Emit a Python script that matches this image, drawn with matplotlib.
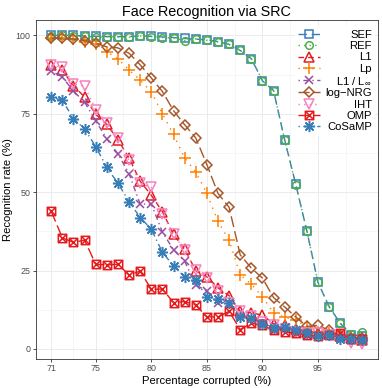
import numpy as np
import matplotlib
matplotlib.use("Agg")
import matplotlib.pyplot as plt
from matplotlib.path import Path
from matplotlib.ticker import FixedLocator

plt.rcParams['font.family'] = ['Liberation Sans', 'DejaVu Sans']
plt.rcParams['mathtext.fontset'] = 'custom'
plt.rcParams['mathtext.rm'] = 'Liberation Sans'
plt.rcParams['mathtext.it'] = 'Liberation Sans'

# ---------------- data ----------------
corrupted = list(range(71, 100))

sef = [100, 100, 100, 99.8, 99.7, 99.6, 99.6, 99.6, 99.8, 99.7, 99.5, 99.3, 99.0, 98.8,
       98.6, 98.0, 97.1, 95.2, 92.6, 85.5, 82.4, 66.7, 52.5, 37.6, 21.2, 13.5, 8.2, 4.6, 4.2]
ref = [99.8, 100, 99.8, 99.7, 99.4, 99.6, 99.5, 99.4, 99.8, 99.6, 99.3, 99.2, 98.3, 98.9,
       98.4, 97.9, 97.1, 95.2, 92.5, 85.6, 82.4, 66.7, 52.4, 37.6, 21.2, 13.5, 8.2, 4.9, 5.3]
l1 = [90.4, 88.8, 84.0, 80.3, 74.8, 71.6, 66.7, 60.9, 53.5, 49.0, 43.8, 36.5, 31.8, 25.0,
      23.0, 19.5, 17.0, 12.0, 11.5, 10.8, 8.0, 7.5, 6.5, 5.5, 5.0, 4.8, 4.0, 3.5, 3.0]
lp = [99.0, 99.0, 98.7, 98.0, 97.3, 94.8, 92.5, 89.0, 85.7, 82.0, 75.0, 68.4, 60.9, 56.4,
      49.6, 40.7, 34.7, 23.6, 20.7, 16.6, 11.5, 10.1, 9.2, 7.0, 5.5, 5.0, 4.0, 3.5, 3.0]
l1_linf = [88.7, 86.7, 82.2, 78.7, 72.7, 67.0, 62.2, 55.9, 46.2, 46.2, 37.3, 31.6, 28.0, 20.4,
           18.5, 14.8, 14.8, 10.5, 10.0, 8.0, 7.0, 6.5, 6.0, 5.0, 4.5, 4.5, 3.5, 3.0, 3.0]
log_nrg = [99.1, 99.1, 98.8, 98.3, 97.5, 96.3, 96.0, 94.3, 90.6, 86.4, 82.1, 76.0, 71.5, 67.3,
           58.8, 49.6, 45.2, 30.0, 25.8, 22.6, 16.4, 13.4, 10.2, 7.2, 7.5, 6.0, 4.5, 3.5, 3.5]
iht = [90.4, 89.9, 84.6, 83.8, 76.3, 72.0, 67.3, 60.1, 52.8, 51.5, 43.0, 36.6, 31.5, 25.1,
       22.6, 18.5, 14.8, 12.0, 10.5, 8.5, 7.5, 6.5, 5.5, 5.0, 5.0, 4.5, 3.5, 2.0, 1.6]
omp = [43.9, 35.4, 34.0, 34.7, 27.0, 26.8, 27.0, 23.6, 24.8, 19.0, 19.1, 14.8, 15.1, 14.0,
       10.2, 10.2, 12.0, 6.2, 8.2, 7.5, 6.0, 5.5, 5.0, 4.5, 4.0, 4.5, 5.0, 3.2, 3.2]
cosamp = [80.3, 79.3, 73.4, 70.2, 64.5, 57.9, 52.8, 47.0, 41.9, 38.2, 30.8, 26.5, 23.0, 22.0,
          16.5, 15.9, 14.8, 10.1, 9.8, 7.8, 6.8, 7.1, 6.0, 5.0, 4.2, 4.5, 3.3, 3.1, 3.0]

labels = ["SEF", "REF", "L1", "Lp", "L1 / L$_{\\infty}$", "log\u2212NRG", "IHT", "OMP", "CoSaMP"]
x_ticks = [71, 75, 80, 85, 90, 95]
y_ticks = [0, 25, 50, 75, 100]

# ---------------- styles ----------------
omp_marker = Path([(-1, -1), (1, -1), (1, 1), (-1, 1), (-1, -1),
                   (-1, -1), (1, 1), (-1, 1), (1, -1)],
                  [Path.MOVETO, Path.LINETO, Path.LINETO, Path.LINETO, Path.CLOSEPOLY,
                   Path.MOVETO, Path.LINETO, Path.MOVETO, Path.LINETO])

styles = [
    dict(color='#377EB8', marker='s', ls=(0, (6, 3.5)), ms=5.5),
    dict(color='#4DAF4A', marker='o', ls=(0, (1, 3)), ms=5.5),
    dict(color='#E41A1C', marker='^', ls=(0, (4, 3)), ms=6.5),
    dict(color='#FF7F00', marker='+', ls=(0, (1, 4)), ms=8),
    dict(color='#984EA3', marker='x', ls=(0, (1, 2.5, 4, 2.5)), ms=6),
    dict(color='#A65628', marker='D', ls=(0, (8, 3)), ms=5.5),
    dict(color='#F781BF', marker='v', ls=(0, (1, 3)), ms=6.5),
    dict(color='#E41A1C', marker=omp_marker, ls=(0, (8, 3)), ms=6),
    dict(color='#377EB8', marker=(8, 2, 0), ls=(0, (1, 2.5, 4, 2.5)), ms=8),
]

series = [sef, ref, l1, lp, l1_linf, log_nrg, iht, omp, cosamp]

W, H = 382, 388
fig = plt.figure(figsize=(W / 100, H / 100), dpi=100)
pl, pr, pt, pb = 35.7, 378.0, 20.3, 359.3
ax = fig.add_axes([pl / W, 1 - pb / H, (pr - pl) / W, (pb - pt) / H])

handles = []
for vals, st, lab in zip(series, styles, labels):
    h, = ax.plot(corrupted, vals, color=st['color'], ls=st['ls'], lw=1.0,
                 marker=st['marker'], ms=st['ms'], mfc='none', mec=st['color'],
                 mew=1.1, label=lab)
    handles.append(h)

ax.set_xlim(69.6, 100.4)
ax.set_ylim(-3.3, 104.8)
ax.xaxis.set_major_locator(FixedLocator(x_ticks))
ax.yaxis.set_major_locator(FixedLocator(y_ticks))
ax.xaxis.set_minor_locator(FixedLocator([73, 77.5, 82.5, 87.5, 92.5, 97.5]))
ax.yaxis.set_minor_locator(FixedLocator([12.5, 37.5, 62.5, 87.5]))
ax.grid(which='major', color='#EBEBEB', lw=0.7)
ax.grid(which='minor', color='#F2F2F2', lw=0.45)
ax.set_axisbelow(True)
ax.tick_params(which='major', length=2.2, width=0.6, color='#333333',
               labelsize=6.4, labelcolor='#4D4D4D', pad=1.5)
ax.tick_params(which='minor', length=0)
for s in ax.spines.values():
    s.set_color('#333333')
    s.set_linewidth(0.6)

ax.set_title("Face Recognition via SRC", fontsize=10.4, pad=3)
ax.set_xlabel("Percentage corrupted (%)", fontsize=8.1, labelpad=1.5)
ax.set_ylabel("Recognition rate (%)", fontsize=8.1, labelpad=2)

leg = ax.legend(handles=handles, loc='upper right', bbox_to_anchor=(0.992, 0.982),
                fontsize=8.1, frameon=True, framealpha=1, edgecolor='none',
                facecolor='white', fancybox=False, handlelength=2.0,
                handletextpad=0.5, labelspacing=0.12, borderpad=0.3,
                borderaxespad=0.0)
try:
    for col in leg._legend_handle_box.get_children():
        col.width = 74
        col.align = 'left'
        for row in col.get_children():
            row.mode = 'expand'
except Exception:
    pass

fig.savefig("out.png", dpi=100)
